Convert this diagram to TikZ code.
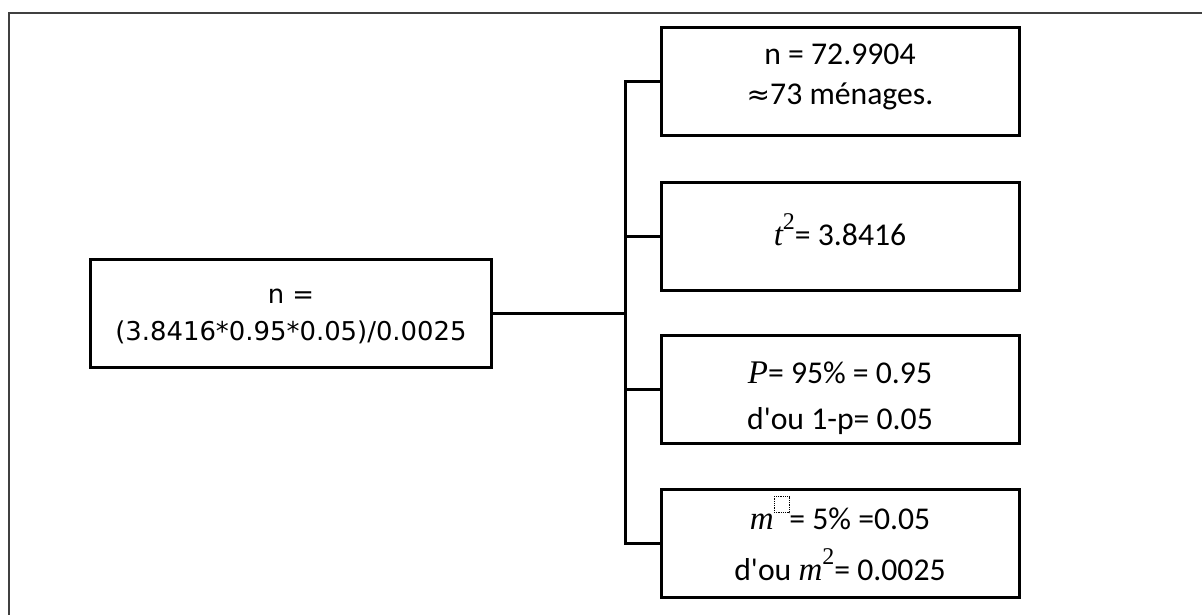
\documentclass[tikz,border=0pt]{standalone}
\usepackage{fontspec}
\setmainfont{Carlito}[Ligatures=TeXOff]
\newfontfamily\mathserif{Liberation Serif}
\newfontfamily\symfont{DejaVu Sans}
\newcommand{\mv}[1]{{\fontsize{33}{37}\selectfont\mathserif\itshape #1}}
\newcommand{\supr}[1]{\raisebox{0.5em}{\fontsize{24}{24}\selectfont\mathserif #1}}
\newcommand{\phbox}{\raisebox{0.5em}{\tikz\draw[densely dotted,line width=0.8pt] (0,0) rectangle (15pt,16pt);}}
\begin{document}
\begin{tikzpicture}[x=1pt,y=-1pt,
  box/.style={draw=black,line width=3pt,inner sep=0pt},
  txt/.style={anchor=base,inner sep=0pt,font=\fontsize{31.7}{37}\selectfont},
  ltxt/.style={anchor=base,inner sep=0pt,font=\fontsize{25.9}{32}\selectfont\symfont},
  link/.style={draw=black,line width=3pt},
  frame/.style={draw=black!75,line width=1.6pt}]
\useasboundingbox (0,0) rectangle (1202,615);
\draw[frame] (9,615) -- (9,13) -- (1203,13);
% boxes
\node[box,minimum width=401pt,minimum height=108pt] (L) at (290.5,313) {};
\node[box,minimum width=358pt,minimum height=108pt] (B1) at (840,82) {};
\node[box,minimum width=358pt,minimum height=108pt] (B2) at (840,236) {};
\node[box,minimum width=358pt,minimum height=108pt] (B3) at (840,389) {};
\node[box,minimum width=358pt,minimum height=108pt] (B4) at (840,543) {};
% connectors
\coordinate (T) at (625,313);
\coordinate (T1) at (625,82);
\coordinate (T4) at (625,543);
\draw[link] (L.east) -- (T);
\draw[link,line cap=rect] (T1) -- (T4);
\draw[link] (T1) -- (B1.west);
\draw[link] (B2.west -| T) -- (B2.west);
\draw[link] (B3.west -| T) -- (B3.west);
\draw[link] (T4) -- (B4.west);
% texts
\node[ltxt] (l1) at (291,303) {n =};
\node[ltxt] (l2) at (291,340) {(3.8416*0.95*0.05)/0.0025};
\node[txt] (b1a) at (840,65) {n = 72.9904};
\node[txt] (b1b) at (840,105) {{\fontsize{28}{30}\selectfont\symfont ≈}73 ménages.};
\node[txt] (b2a) at (840,245) {\mv{t}\supr{2}= 3.8416};
\node[txt] (b3a) at (840,383) {\mv{P}= 95\% = 0.95};
\node[txt] (b3b) at (840,429) {d'ou 1-p= 0.05};
\node[txt] (b4a) at (840,529) {\mv{m}\phbox= 5\% =0.05};
\node[txt] (b4b) at (840,580) {d'ou \mv{m}\supr{2}= 0.0025};
\end{tikzpicture}
\end{document}
